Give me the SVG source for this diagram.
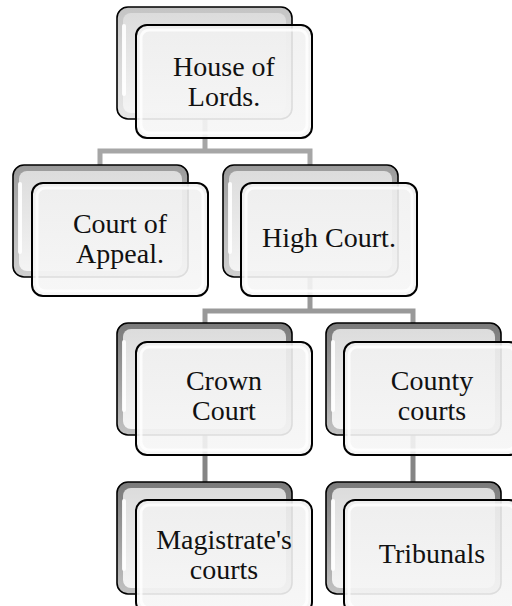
<svg xmlns="http://www.w3.org/2000/svg" width="512" height="606" viewBox="0 0 512 606">
  <defs>
    <linearGradient id="rim0" x1="0" y1="0" x2="0" y2="1">
      <stop offset="0" stop-color="#c4c4c4"/>
      <stop offset="0.5" stop-color="#d8d8d8"/>
      <stop offset="1" stop-color="#e6e6e6"/>
    </linearGradient>
    <linearGradient id="rim1" x1="0" y1="0" x2="0" y2="1">
      <stop offset="0" stop-color="#9a9a9a"/>
      <stop offset="0.5" stop-color="#b8b8b8"/>
      <stop offset="1" stop-color="#d0d0d0"/>
    </linearGradient>
    <linearGradient id="rim2" x1="0" y1="0" x2="0" y2="1">
      <stop offset="0" stop-color="#7a7a7a"/>
      <stop offset="0.5" stop-color="#9c9c9c"/>
      <stop offset="1" stop-color="#c2c2c2"/>
    </linearGradient>
    <linearGradient id="inner" x1="0" y1="0" x2="0" y2="1">
      <stop offset="0" stop-color="#dcdcdc"/>
      <stop offset="1" stop-color="#f4f4f4"/>
    </linearGradient>
    <linearGradient id="face" x1="0" y1="0" x2="0" y2="1">
      <stop offset="0" stop-color="#f0f0f0"/>
      <stop offset="1" stop-color="#f6f6f6"/>
    </linearGradient>
  </defs>
  <style>
    .back { stroke: #000; stroke-width: 1.6; }
    .inner { fill: url(#inner); }
    .hl { fill: #ffffff; opacity: 0.9; }
    .front { fill: url(#face); fill-opacity: 0.9; stroke: #000; stroke-width: 2; }
    .bevel { fill: none; stroke: #ffffff; stroke-width: 3; opacity: 0.8; }
    .lbl { font-family: "Liberation Serif", "Times New Roman", serif; font-size: 28px; fill: #111; text-anchor: middle; }
    .c0 { fill: none; stroke: #a6a6a6; stroke-width: 5; }
    .c1 { fill: none; stroke: #999999; stroke-width: 5; }
    .c2 { fill: none; stroke: #858585; stroke-width: 5; }
  </style>

  <g id="connectors">
    <path class="c0" d="M205,118 V151 H100 V165 M205,151 H310 V165"/>
    <path class="c1" d="M310,277 V311 H205 V323 M310,311 H413 V323"/>
    <path class="c2" d="M205,435 V482 M413,435 V482"/>
  </g>

  <g id="house-of-lords">
    <rect class="back" x="117" y="7" width="175" height="112" rx="11" fill="url(#rim0)"/>
    <rect class="inner" x="123" y="13" width="163" height="100" rx="8"/>
    <rect class="hl" x="122" y="24" width="4" height="72" rx="2"/>
    <rect class="front" x="136" y="25" width="176" height="113" rx="11"/>
    <rect class="bevel" x="141" y="30" width="166" height="103" rx="8"/>
    <text class="lbl" x="224" y="76">House of</text>
    <text class="lbl" x="224" y="106">Lords.</text>
  </g>

  <g id="court-of-appeal">
    <rect class="back" x="13" y="165" width="175" height="112" rx="11" fill="url(#rim1)"/>
    <rect class="inner" x="19" y="171" width="163" height="100" rx="8"/>
    <rect class="hl" x="18" y="182" width="4" height="72" rx="2"/>
    <rect class="front" x="32" y="183" width="176" height="113" rx="11"/>
    <rect class="bevel" x="37" y="188" width="166" height="103" rx="8"/>
    <text class="lbl" x="120" y="233">Court of</text>
    <text class="lbl" x="120" y="263">Appeal.</text>
  </g>

  <g id="high-court">
    <rect class="back" x="223" y="165" width="175" height="112" rx="11" fill="url(#rim1)"/>
    <rect class="inner" x="229" y="171" width="163" height="100" rx="8"/>
    <rect class="hl" x="228" y="182" width="4" height="72" rx="2"/>
    <rect class="front" x="241" y="183" width="176" height="113" rx="11"/>
    <rect class="bevel" x="246" y="188" width="166" height="103" rx="8"/>
    <text class="lbl" x="329" y="247">High Court.</text>
  </g>

  <g id="crown-court">
    <rect class="back" x="117" y="323" width="175" height="112" rx="11" fill="url(#rim2)"/>
    <rect class="inner" x="123" y="329" width="163" height="100" rx="8"/>
    <rect class="hl" x="122" y="340" width="4" height="72" rx="2"/>
    <rect class="front" x="136" y="342" width="176" height="113" rx="11"/>
    <rect class="bevel" x="141" y="347" width="166" height="103" rx="8"/>
    <text class="lbl" x="224" y="390">Crown</text>
    <text class="lbl" x="224" y="420">Court</text>
  </g>

  <g id="county-courts">
    <rect class="back" x="326" y="323" width="175" height="112" rx="11" fill="url(#rim2)"/>
    <rect class="inner" x="332" y="329" width="163" height="100" rx="8"/>
    <rect class="hl" x="331" y="340" width="4" height="72" rx="2"/>
    <rect class="front" x="344" y="342" width="176" height="113" rx="11"/>
    <rect class="bevel" x="349" y="347" width="166" height="103" rx="8"/>
    <text class="lbl" x="432" y="390">County</text>
    <text class="lbl" x="432" y="420">courts</text>
  </g>

  <g id="magistrates-courts">
    <rect class="back" x="117" y="482" width="175" height="112" rx="11" fill="url(#rim2)"/>
    <rect class="inner" x="123" y="488" width="163" height="100" rx="8"/>
    <rect class="hl" x="122" y="499" width="4" height="72" rx="2"/>
    <rect class="front" x="136" y="500" width="176" height="113" rx="11"/>
    <rect class="bevel" x="141" y="505" width="166" height="103" rx="8"/>
    <text class="lbl" x="224" y="549">Magistrate's</text>
    <text class="lbl" x="224" y="579">courts</text>
  </g>

  <g id="tribunals">
    <rect class="back" x="326" y="482" width="175" height="112" rx="11" fill="url(#rim2)"/>
    <rect class="inner" x="332" y="488" width="163" height="100" rx="8"/>
    <rect class="hl" x="331" y="499" width="4" height="72" rx="2"/>
    <rect class="front" x="344" y="500" width="176" height="113" rx="11"/>
    <rect class="bevel" x="349" y="505" width="166" height="103" rx="8"/>
    <text class="lbl" x="432" y="563">Tribunals</text>
  </g>
</svg>
